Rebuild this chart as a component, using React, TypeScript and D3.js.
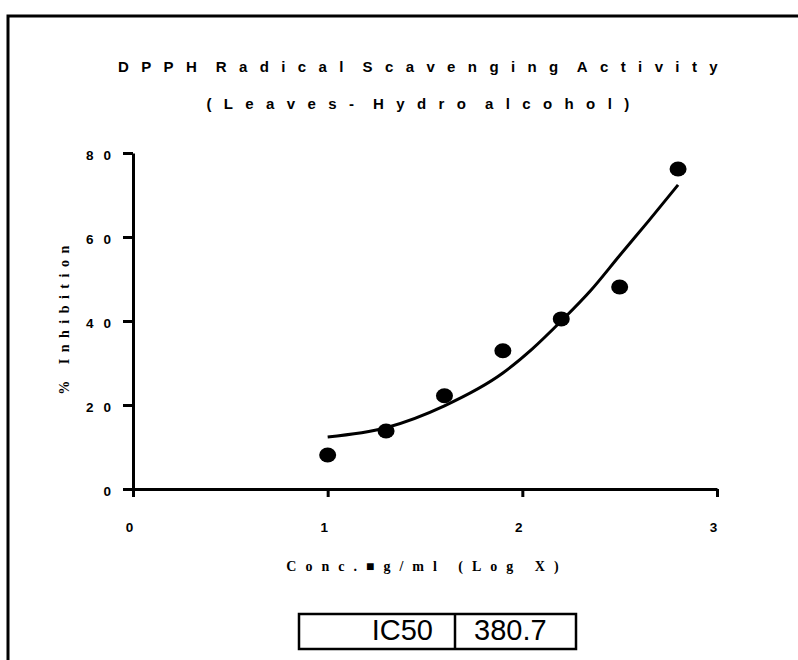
import React, { useRef, useEffect } from 'react';
import * as d3 from 'd3';

// log10 concentration (ug/ml) and % inhibition
const logConc = [1.0, 1.3, 1.6, 1.9, 2.2, 2.5, 2.8];
const inhibition = [8.1, 13.8, 22.2, 32.9, 40.5, 48.1, 76.2];

// fitted curve
const fitX = [1.0, 1.3, 1.6, 1.9, 2.05, 2.2, 2.35, 2.5, 2.65, 2.8];
const fitY = [12.4, 14.6, 19.8, 27.6, 33.3, 40.0, 47.2, 55.6, 63.9, 72.4];

const xTicks = [0, 1, 2, 3];
const yTicks = [0, 20, 40, 60, 80];

const titleLines = ['DPPH Radical Scavenging Activity', '(Leaves- Hydro alcohol)'];
const yLabel = '% Inhibition';
const xLabel = 'Conc.\u25A0g/ml (Log X)';
const tableCells = ['IC50', '380.7'];

const App = () => {
    const svgRef = useRef<SVGSVGElement>(null);

    useEffect(() => {
        const svg = d3.select(svgRef.current);
        svg.selectAll('*').remove();

        const margin = { left: 133, top: 153, right: 81, bottom: 171 };
        const width = 798 - margin.left - margin.right;
        const height = 660 - margin.top - margin.bottom;

        const x = d3.scaleLinear().domain([0, 3]).range([0, width]);
        const y = d3.scaleLinear().domain([0, 80]).range([height, 0]);

        // outer frame
        svg.append('rect')
            .attr('x', 8).attr('y', 16)
            .attr('width', 800).attr('height', 660)
            .attr('fill', 'none').attr('stroke', '#000').attr('stroke-width', 3);

        // title
        svg.selectAll('.title')
            .data(titleLines)
            .enter().append('text')
            .attr('class', 'title')
            .attr('x', 424)
            .attr('y', (d, i) => 72 + i * 37)
            .attr('text-anchor', 'middle')
            .style('font-family', '"Liberation Sans", Arial, sans-serif')
            .style('font-weight', 'bold')
            .style('font-size', '15px')
            .style('letter-spacing', '12.4px')
            .style('word-spacing', '-10px')
            .text(d => d);

        const g = svg.append('g').attr('transform', `translate(${margin.left},${margin.top})`);

        // y axis
        const yAxis = d3.axisLeft(y).tickValues(yTicks).tickSize(10).tickSizeOuter(0).tickPadding(2)
            .tickFormat(d => String(d));
        const ya = g.append('g').call(yAxis);

        // x axis
        const xAxis = d3.axisBottom(x).tickValues(xTicks).tickSize(8).tickSizeOuter(0).tickPadding(25)
            .tickFormat(d => String(d));
        const xa = g.append('g').attr('transform', `translate(0,${height})`).call(xAxis);

        [ya, xa].forEach(a => {
            a.select('.domain').attr('stroke-width', 3).attr('stroke', '#000');
            a.selectAll('.tick line').attr('stroke-width', 3).attr('stroke', '#000');
            a.selectAll('.tick text')
                .style('font-family', '"Liberation Sans", Arial, sans-serif')
                .style('font-weight', 'bold')
                .style('font-size', '13.5px')
                .attr('fill', '#000');
        });
        ya.selectAll('.tick text').style('letter-spacing', '10px').attr('dy', '0.5em');
        xa.selectAll('.tick text').attr('dx', -4);

        // fitted curve
        const line = d3.line<number>()
            .x((d, i) => x(fitX[i]))
            .y(d => y(d))
            .curve(d3.curveMonotoneX);
        g.append('path')
            .datum(fitY)
            .attr('d', line)
            .attr('fill', 'none')
            .attr('stroke', '#000')
            .attr('stroke-width', 3);

        // data points
        g.selectAll('.dot')
            .data(inhibition)
            .enter().append('ellipse')
            .attr('class', 'dot')
            .attr('cx', (d, i) => x(logConc[i]))
            .attr('cy', d => y(d))
            .attr('rx', 8.5)
            .attr('ry', 7.5)
            .attr('fill', '#000');

        // axis labels
        svg.append('text')
            .attr('transform', `translate(69,${margin.top + height / 2 - 4}) rotate(-90)`)
            .attr('text-anchor', 'middle')
            .style('font-family', '"Liberation Serif", "Times New Roman", serif')
            .style('font-weight', 'bold')
            .style('font-size', '14px')
            .style('letter-spacing', '6.5px')
            .text(yLabel);

        svg.append('text')
            .attr('x', 427)
            .attr('y', 571)
            .attr('text-anchor', 'middle')
            .style('font-family', '"Liberation Serif", "Times New Roman", serif')
            .style('font-weight', 'bold')
            .style('font-size', '14px')
            .style('letter-spacing', '9px')
            .text(xLabel);

        // IC50 table
        const tbl = svg.append('g');
        tbl.append('rect')
            .attr('x', 299).attr('y', 614)
            .attr('width', 277).attr('height', 35)
            .attr('fill', 'none').attr('stroke', '#000').attr('stroke-width', 2.5);
        tbl.append('line')
            .attr('x1', 455).attr('x2', 455).attr('y1', 614).attr('y2', 649)
            .attr('stroke', '#000').attr('stroke-width', 2.5);
        tbl.selectAll('.cell')
            .data(tableCells)
            .enter().append('text')
            .attr('class', 'cell')
            .attr('x', (d, i) => (i === 0 ? 433 : 474))
            .attr('y', 640)
            .attr('text-anchor', (d, i) => (i === 0 ? 'end' : 'start'))
            .style('font-family', '"Liberation Sans", Arial, sans-serif')
            .style('font-size', '29px')
            .text(d => d);
    }, []);

    return (
        <svg ref={svgRef} width={798} height={660}
            style={{ position: 'absolute', left: 0, top: 0, background: '#fff' }} />
    );
};

export default App;
